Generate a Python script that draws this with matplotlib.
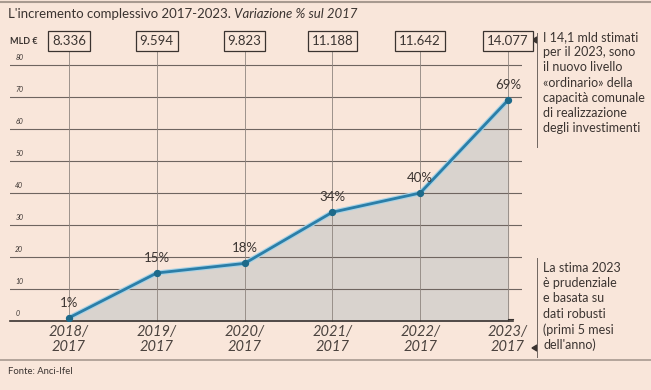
import matplotlib
matplotlib.use("Agg")
import matplotlib.pyplot as plt
import matplotlib.patheffects as pe
from matplotlib.text import Annotation

plt.rcParams['font.family'] = ['Lato', 'DejaVu Sans']

categories = ["2018/\n2017", "2019/\n2017", "2020/\n2017", "2021/\n2017", "2022/\n2017", "2023/\n2017"]
values = [1, 15, 18, 34, 40, 69]
value_labels = ["1%", "15%", "18%", "34%", "40%", "69%"]
billions = ["8.336", "9.594", "9.823", "11.188", "11.642", "14.077"]
yticks = [0, 10, 20, 30, 40, 50, 60, 70, 80]

W, H = 651, 390
BG = "#f9e6da"
TXT = "#3b3431"
GRID = "#6f6560"

fig = plt.figure(figsize=(W / 100, H / 100), dpi=100, facecolor=BG)

# pixel geometry
x0_px, x5_px = 69, 508
ax_left_px, ax_right_px = 10, 522
y0_px, ytop_px = 321, 50  # from top
unit_x = (x5_px - x0_px) / 5
xmin = (ax_left_px - x0_px) / unit_x
xmax = (ax_right_px - x0_px) / unit_x
px_per_y = (321 - 65) / 80
ymax = (y0_px - ytop_px) / px_per_y

ax = fig.add_axes([ax_left_px / W, (H - y0_px) / H, (ax_right_px - ax_left_px) / W, (y0_px - ytop_px) / H])
ax.set_facecolor(BG)
ax.set_xlim(xmin, xmax)
ax.set_ylim(0, ymax)
for s in ax.spines.values():
    s.set_visible(False)
ax.set_xticks([])
ax.set_yticks([])

xs = list(range(len(values)))
ax.fill_between(xs, values, 0, color="#d9d3ce", zorder=1)

# horizontal grid lines
for t in yticks[1:]:
    ax.plot([xmin, xmax], [t, t], color=GRID, lw=0.8, zorder=2)
for t in yticks:
    ax.text(xmin + 0.06, t + 1.2, str(t), fontsize=5, style="italic", color=TXT, ha="left", va="bottom", zorder=3)
# baseline
ax.plot([xmin, xs[-1] + 0.06], [0, 0], color="#3a3330", lw=1.2, zorder=4, clip_on=False)

# vertical lines
for x in xs:
    ax.plot([x, x], [0, ymax], color="#8e857f", lw=0.6, zorder=2, clip_on=False)
ax.plot([xs[-1], xs[-1] + 0.06], [0.6, 0.6], color="#3a3330", lw=0.8, zorder=4)

# data line
ax.plot(xs, values, color="#2b7ea8", lw=2.0, zorder=5, solid_capstyle="round",
        path_effects=[pe.Stroke(linewidth=3.6, foreground="#a9d3e6"), pe.Normal()])
ax.scatter(xs, values, s=18, color="#1d6a8a", zorder=6)

for x, v, lab in zip(xs, values, value_labels):
    ax.text(x, v + 2.8, lab, fontsize=9.5, color=TXT, ha="center", va="bottom", zorder=7)

# x labels
for x, c in zip(xs, categories):
    fig.text((x0_px + x * unit_x) / W, 1 - 325 / H, c, fontsize=10.5, style="italic", color="#4a423e",
             ha="center", va="top", linespacing=1.05)

# boxes with billions
for x, b in zip(xs, billions):
    fig.text((x0_px + x * unit_x) / W, 1 - 41 / H, b, fontsize=9.5, color=TXT, ha="center", va="center",
             bbox=dict(boxstyle="square,pad=0.3", facecolor=BG, edgecolor="#3a3330", lw=0.9))
fig.text(10 / W, 1 - 41 / H, "MLD €", fontsize=6.5, fontweight="bold", color=TXT, ha="left", va="center")

# title
t1 = fig.text(8 / W, 1 - 18 / H, "L'incremento complessivo 2017-2023.", fontsize=9.5, color=TXT,
              ha="left", va="baseline")
fig.add_artist(Annotation(" Variazione % sul 2017", xy=(1, 0), xycoords=t1, fontsize=9.5, style="italic",
                          color=TXT, ha="left", va="bottom"))

# top and bottom rules
fig.add_artist(plt.Line2D([0, 1], [1 - 1.5 / H, 1 - 1.5 / H], color="#a89a90", lw=1.5))
fig.add_artist(plt.Line2D([0, 1], [1 - 360 / H, 1 - 360 / H], color="#a89a90", lw=1.2))
fig.text(8 / W, 1 - 372 / H, "Fonte: Anci-Ifel", fontsize=6.8, color=TXT, ha="left", va="center")

# right annotations
fig.add_artist(plt.Line2D([537 / W, 537 / W], [1 - 33 / H, 1 - 147 / H], color="#6f6560", lw=0.7))
fig.add_artist(plt.Line2D([537 / W, 537 / W], [1 - 258 / H, 1 - 357 / H], color="#6f6560", lw=0.7))
fig.add_artist(plt.Polygon([[532 / W, 1 - 40 / H], [537 / W, 1 - 37 / H], [537 / W, 1 - 43 / H]],
                           closed=True, color="#3a3330"))
fig.add_artist(plt.Polygon([[532 / W, 1 - 348 / H], [537 / W, 1 - 345 / H], [537 / W, 1 - 351 / H]],
                           closed=True, color="#3a3330"))

fig.text(543 / W, 1 - 31 / H,
         "I 14,1 mld stimati\nper il 2023, sono\nil nuovo livello\n«ordinario» della\ncapacità comunale\ndi realizzazione\ndegli investimenti",
         fontsize=9, color=TXT, ha="left", va="top", linespacing=1.32)
fig.text(543 / W, 1 - 262 / H,
         "La stima 2023\nè prudenziale\ne basata su\ndati robusti\n(primi 5 mesi\ndell'anno)",
         fontsize=9, color=TXT, ha="left", va="top", linespacing=1.32)

fig.savefig("out.png", dpi=100, facecolor=BG)
